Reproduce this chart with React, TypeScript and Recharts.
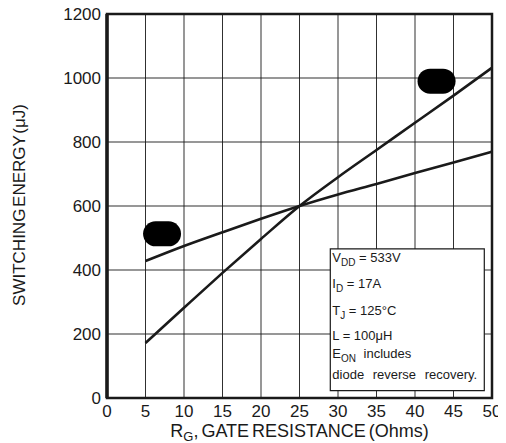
import { CartesianGrid, ComposedChart, Line, ReferenceArea, Scatter, XAxis, YAxis } from "recharts";

const xTicks = [0, 5, 10, 15, 20, 25, 30, 35, 40, 45, 50];
const yTicks = [0, 200, 400, 600, 800, 1000, 1200];

const gateResistance = [5, 10, 15, 20, 25, 30, 35, 40, 45, 50];
const eOnValues = [172, 282, 391, 497, 600, 690, 775, 860, 945, 1032];
const eOffValues = [428, 475, 518, 560, 600, 636, 669, 703, 736, 770];

const markerX = [7.15, 42.8];
const markerY = [513, 990];

const eOnData = gateResistance.map((x, i) => ({ x, y: eOnValues[i] }));
const eOffData = gateResistance.map((x, i) => ({ x, y: eOffValues[i] }));
const markerData = markerX.map((x, i) => ({ x, y: markerY[i] }));

const FONT = "'Liberation Sans', Arial, Helvetica, sans-serif";
const INK = "#1a1a1a";

const Blob = (props: any) => {
  const { cx, cy } = props;
  if (cx == null || cy == null) return null;
  return <rect x={cx - 19} y={cy - 12.5} width={38} height={25} rx={12.5} ry={12.5} fill="#000" />;
};

const XTitle = (props: any) => {
  const vb = props.viewBox || {};
  const cx = vb.x + vb.width / 2;
  return (
    <text x={cx} y={vb.y + 39} textAnchor="middle" fontFamily={FONT} fontSize={18} fill={INK} wordSpacing={-2}>
      R<tspan fontSize={13} dy={4}>G</tspan>
      <tspan dy={-4}>, GATE RESISTANCE (Ohms)</tspan>
    </text>
  );
};

const YTitle = () => (
  <text
    x={11}
    y={205}
    transform="rotate(-90 11 205)"
    textAnchor="middle"
    dominantBaseline="central"
    fontFamily={FONT}
    fontSize={17}
    fill={INK}
    wordSpacing={-3}
  >
    SWITCHING ENERGY (μJ)
  </text>
);

const BoxText = (props: any) => {
  const vb = props.viewBox || {};
  const x = vb.x + 2;
  const y = vb.y;
  const common = { fontFamily: FONT, fontSize: 13, fill: INK };
  return (
    <g>
      <text x={x} y={y + 12.7} {...common}>
        V<tspan fontSize={10} dy={4}>DD</tspan>
        <tspan dy={-4}> = 533V</tspan>
      </text>
      <text x={x} y={y + 39} {...common}>
        I<tspan fontSize={10} dy={4}>D</tspan>
        <tspan dy={-4}> = 17A</tspan>
      </text>
      <text x={x} y={y + 66} {...common}>
        T<tspan fontSize={10} dy={4}>J</tspan>
        <tspan dy={-4}> = 125°C</tspan>
      </text>
      <text x={x} y={y + 91} {...common}>
        L = 100μH
      </text>
      <text x={x} y={y + 109} {...common} wordSpacing={4}>
        E<tspan fontSize={10} dy={4}>ON</tspan>
        <tspan dy={-4}> includes</tspan>
      </text>
      <text x={x} y={y + 130} {...common} wordSpacing={5}>
        diode reverse recovery.
      </text>
    </g>
  );
};

export default function App() {
  return (
    <div style={{ marginTop: -8 }}>
      <ComposedChart width={498} height={443} margin={{ top: 14, right: 14, left: 0, bottom: 0 }}>
        <CartesianGrid stroke={INK} strokeWidth={1} strokeOpacity={0.9} horizontalValues={yTicks} verticalValues={xTicks} />
        <XAxis
          type="number"
          dataKey="x"
          domain={[0, 50]}
          ticks={xTicks}
          interval={0}
          axisLine={false}
          tickLine={false}
          tickSize={0}
          tickMargin={7}
          height={45}
          tick={{ fill: INK, fontSize: 17, fontFamily: FONT }}
          label={<XTitle />}
        />
        <YAxis
          type="number"
          dataKey="y"
          domain={[0, 1200]}
          ticks={yTicks}
          interval={0}
          width={99}
          axisLine={{ stroke: INK, strokeWidth: 3.5 }}
          tickLine={false}
          tickSize={0}
          tickMargin={6}
          tick={{ fill: INK, fontSize: 17, fontFamily: FONT }}
          label={<YTitle />}
        />
        <ReferenceArea x1={0} x2={50} y1={0} y2={1200} fill="none" stroke={INK} strokeWidth={2.5} />
        <ReferenceArea
          x1={29}
          x2={49}
          y1={23}
          y2={466}
          fill="#fff"
          fillOpacity={1}
          stroke={INK}
          strokeWidth={1.2}
          label={<BoxText />}
        />
        <Line data={eOnData} dataKey="y" type="monotone" stroke={INK} strokeWidth={2.6} dot={false} isAnimationActive={false} />
        <Line data={eOffData} dataKey="y" type="monotone" stroke={INK} strokeWidth={2.6} dot={false} isAnimationActive={false} />
        <Scatter data={markerData} dataKey="y" shape={<Blob />} isAnimationActive={false} />
      </ComposedChart>
    </div>
  );
}
